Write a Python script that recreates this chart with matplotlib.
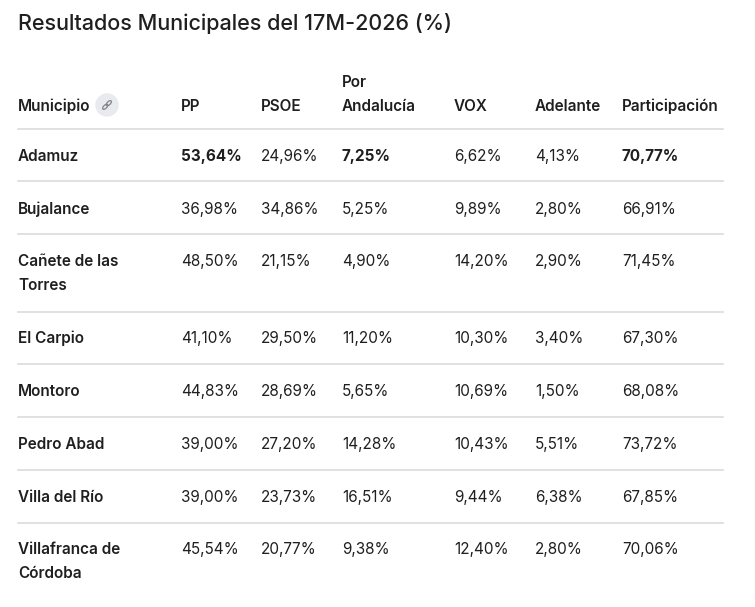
import matplotlib
matplotlib.use("Agg")
import matplotlib.pyplot as plt
from matplotlib.patches import Circle, Ellipse

title = "Resultados Municipales del 17M-2026 (%)"
headers = ["Municipio", "PP", "PSOE", "Por\nAndalucía", "VOX", "Adelante", "Participación"]
municipios = ["Adamuz", "Bujalance", "Cañete de las\nTorres", "El Carpio", "Montoro",
              "Pedro Abad", "Villa del Río", "Villafranca de\nCórdoba"]
pp = [53.64, 36.98, 48.50, 41.10, 44.83, 39.00, 39.00, 45.54]
psoe = [24.96, 34.86, 21.15, 29.50, 28.69, 27.20, 23.73, 20.77]
por_andalucia = [7.25, 5.25, 4.90, 11.20, 5.65, 14.28, 16.51, 9.38]
vox = [6.62, 9.89, 14.20, 10.30, 10.69, 10.43, 9.44, 12.40]
adelante = [4.13, 2.80, 2.90, 3.40, 1.50, 5.51, 6.38, 2.80]
participacion = [70.77, 66.91, 71.45, 67.30, 68.08, 73.72, 67.85, 70.06]
# bold cells in first row (column indices 1..6)
bold_cells = {(0, 1), (0, 3), (0, 6)}

W, H = 755, 607
fig = plt.figure(figsize=(W / 100, H / 100), dpi=100)
ax = fig.add_axes([0, 0, 1, 1])
ax.set_xlim(0, W)
ax.set_ylim(H, 0)
ax.axis("off")

FONT = ["Inter", "DejaVu Sans"]
TXT = "#1f1f1f"
LINE = "#dadce0"
FS = 11

col_x = [18, 181, 261, 342, 454, 535, 622]
left, right = 18, 723
LS = 24  # px between wrapped lines


def cell(x, y, s, weight="normal", size=FS, up=False):
    lines = s.split("\n")
    for k, ln in enumerate(lines):
        yy = y - (len(lines) - 1 - k) * LS if up else y + k * LS
        ax.text(x, yy, ln, fontsize=size, family=FONT, fontweight=weight, color=TXT,
                va="center_baseline", ha="left")


cell(18, 22, title, weight="medium", size=15.5)

# header (multi-line headers grow upwards, bottom-aligned)
for i, h in enumerate(headers):
    cell(col_x[i], 105, h, weight="semibold", up=True)
# link icon next to Municipio
ax.add_patch(Circle((107, 105), 11, color="#e9eaee", zorder=1))
for dx, dy in [(-1.8, 1.8), (1.8, -1.8)]:
    ax.add_patch(Ellipse((107 + dx, 105 + dy), 6.5, 3.2, angle=-45, fill=False,
                         ec="#80868b", lw=0.9, zorder=2))

ax.plot([left, right], [129, 129], color=LINE, lw=1.2)

row_text_y = [155, 208, 260, 337, 390, 443, 496, 548]
row_line_y = [181, 234, 312, 364, 417, 470, 523]

cols = [pp, psoe, por_andalucia, vox, adelante, participacion]
for r, name in enumerate(municipios):
    y = row_text_y[r]
    cell(col_x[0], y, name, weight="semibold")
    for c, vals in enumerate(cols):
        s = f"{vals[r]:.2f}".replace(".", ",") + "%"
        w = "bold" if (r, c + 1) in bold_cells else "normal"
        cell(col_x[c + 1], y, s, weight=w)
for y in row_line_y:
    ax.plot([left, right], [y, y], color=LINE, lw=1.2)

fig.savefig("out.png", dpi=100)
